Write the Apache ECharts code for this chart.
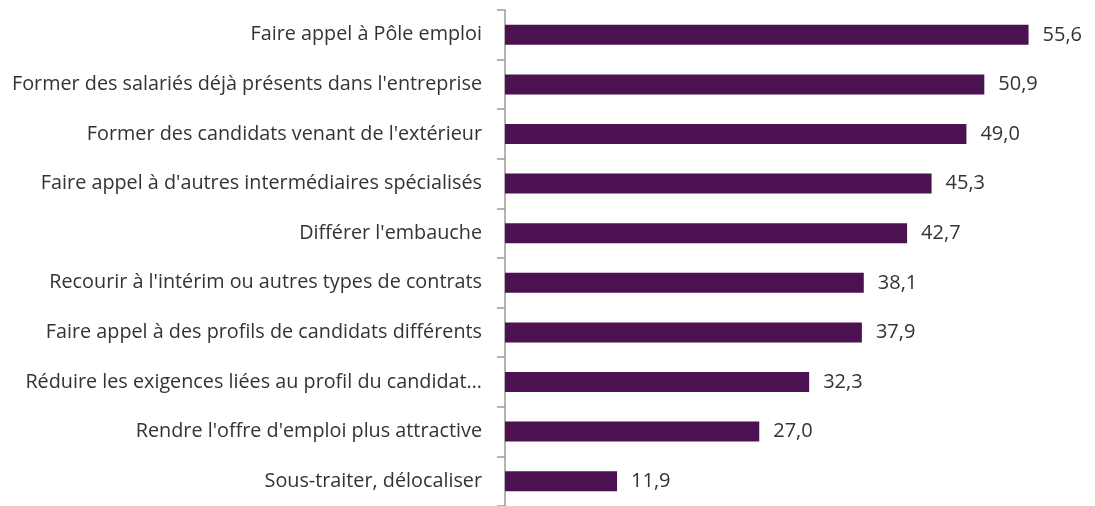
<!DOCTYPE html>
<html lang="fr" style="height: 100%;margin: 0;background-color: #fff;">
<head>
    <meta charset="UTF-8">
    <title>chart</title>
</head>
<body style="height: 100%;margin: 0;background-color: #fff;">
<div id="chart" style="width: 1095px;height: 506px;margin: 0;"></div>
<script src="https://cdn.jsdelivr.net/npm/echarts@6/dist/echarts.min.js"></script>
<script>
    var categories = [
        "Faire appel à Pôle emploi",
        "Former des salariés déjà présents dans l'entreprise",
        "Former des candidats venant de l'extérieur",
        "Faire appel à d'autres intermédiaires spécialisés",
        "Différer l'embauche",
        "Recourir à l'intérim ou autres types de contrats",
        "Faire appel à des profils de candidats différents",
        "Réduire les exigences liées au profil du candidat…",
        "Rendre l'offre d'emploi plus attractive",
        "Sous-traiter, délocaliser"
    ];
    var values = [55.6, 50.9, 49.0, 45.3, 42.7, 38.1, 37.9, 32.3, 27.0, 11.9];

    var myChart = echarts.init(document.getElementById("chart"), null, {renderer: 'canvas'});
    var font = 'Open Sans';

    var option = {
        backgroundColor: '#ffffff',
        animation: false,
        textStyle: {fontFamily: font},
        grid: {left: 505, right: 25, top: 10, bottom: -1, containLabel: false},
        xAxis: {
            type: 'value',
            min: 0,
            max: 60,
            show: false
        },
        yAxis: {
            type: 'category',
            inverse: true,
            data: categories,
            axisLine: {show: true, lineStyle: {color: '#9a9a9a', width: 1.5}},
            axisTick: {show: true, length: 8, lineStyle: {color: '#9a9a9a', width: 1.5}},
            axisLabel: {
                color: '#333333',
                fontSize: 19.8,
                margin: 23,
                fontFamily: font
            }
        },
        series: [{
            type: 'bar',
            data: values,
            barWidth: 20,
            itemStyle: {color: '#4b1151'},
            label: {
                show: true,
                position: 'right',
                distance: 14,
                color: '#333333',
                fontSize: 20,
                fontFamily: font,
                formatter: function (p) {
                    return p.value.toFixed(1).replace('.', ',');
                }
            }
        }]
    };
    myChart.setOption(option, true);
</script>
</body>
</html>
